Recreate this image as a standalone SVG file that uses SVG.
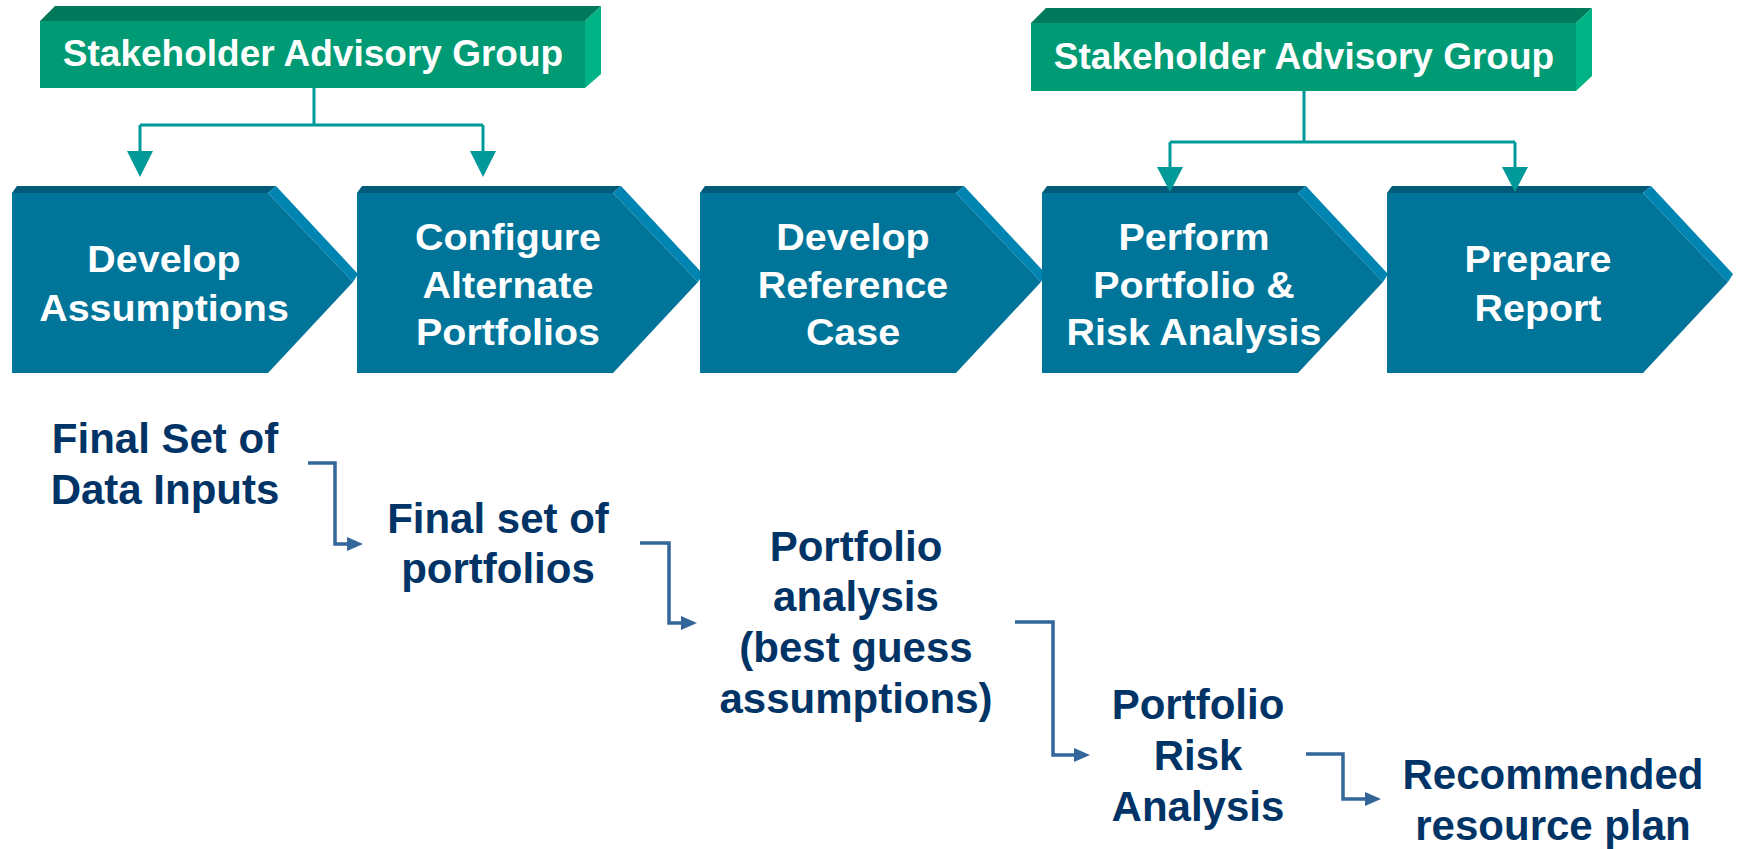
<svg xmlns="http://www.w3.org/2000/svg" width="1738" height="849" viewBox="0 0 1738 849">
<style>
.gfront{fill:#009B74}.gtop{fill:#007A5A}.gside{fill:#00B386}
.cfront{fill:#007499}.ctop{fill:#005A78}.cside{fill:#0084B2}
.gt{font-family:"Liberation Sans",Arial,sans-serif;font-weight:bold;font-size:37px;fill:#FFFFFF;text-anchor:middle}
.ct{font-family:"Liberation Sans",Arial,sans-serif;font-weight:bold;font-size:37px;fill:#FFFFFF;text-anchor:middle}
.bt{font-family:"Liberation Sans",Arial,sans-serif;font-weight:bold;font-size:42px;fill:#003366;text-anchor:middle}
.tl{fill:none;stroke:#009999;stroke-width:3}
.ta{fill:#009999}
.bl{fill:none;stroke:#336699;stroke-width:3.5}
.ba{fill:#336699}
</style>
<g id="sag1">
<polygon class="gtop" points="40,21 55,6 601,6 585,21"/>
<polygon class="gside" points="585,21 601,6 601,74 585,88"/>
<rect class="gfront" x="40" y="21" width="545" height="67"/>
<text class="gt" x="313" y="66">Stakeholder Advisory Group</text>
</g>
<g id="sag2">
<polygon class="gtop" points="1031,23 1046,8 1592,8 1576,23"/>
<polygon class="gside" points="1576,23 1592,8 1592,76 1576,91"/>
<rect class="gfront" x="1031" y="23" width="545" height="68"/>
<text class="gt" x="1304" y="69">Stakeholder Advisory Group</text>
</g>
<g id="step1">
<polygon class="ctop" points="12,193 17,186 276,186 268,193"/>
<polygon class="cside" points="268,193 276,186 358,274 353,282"/>
<polygon class="cfront" points="12,193 268,193 353,282 268,373 12,373"/>
<text class="ct" transform="translate(164,0) scale(1.065,1)"><tspan x="0" y="272">Develop</tspan><tspan x="0" y="321">Assumptions</tspan></text>
</g>
<g id="step2">
<polygon class="ctop" points="357,193 362,186 621,186 613,193"/>
<polygon class="cside" points="613,193 621,186 703,274 698,282"/>
<polygon class="cfront" points="357,193 613,193 698,282 613,373 357,373"/>
<text class="ct" transform="translate(508,0) scale(1.065,1)"><tspan x="0" y="250">Configure</tspan><tspan x="0" y="298">Alternate</tspan><tspan x="0" y="345">Portfolios</tspan></text>
</g>
<g id="step3">
<polygon class="ctop" points="700,193 705,186 964,186 956,193"/>
<polygon class="cside" points="956,193 964,186 1046,274 1041,282"/>
<polygon class="cfront" points="700,193 956,193 1041,282 956,373 700,373"/>
<text class="ct" transform="translate(853,0) scale(1.065,1)"><tspan x="0" y="250">Develop</tspan><tspan x="0" y="298">Reference</tspan><tspan x="0" y="345">Case</tspan></text>
</g>
<g id="step4">
<polygon class="ctop" points="1042,193 1047,186 1306,186 1298,193"/>
<polygon class="cside" points="1298,193 1306,186 1388,274 1383,282"/>
<polygon class="cfront" points="1042,193 1298,193 1383,282 1298,373 1042,373"/>
<text class="ct" transform="translate(1194,0) scale(1.065,1)"><tspan x="0" y="250">Perform</tspan><tspan x="0" y="298">Portfolio &amp;</tspan><tspan x="0" y="345">Risk Analysis</tspan></text>
</g>
<g id="step5">
<polygon class="ctop" points="1387,193 1392,186 1651,186 1643,193"/>
<polygon class="cside" points="1643,193 1651,186 1733,274 1728,282"/>
<polygon class="cfront" points="1387,193 1643,193 1728,282 1643,373 1387,373"/>
<text class="ct" transform="translate(1538,0) scale(1.065,1)"><tspan x="0" y="272">Prepare</tspan><tspan x="0" y="321">Report</tspan></text>
</g>
<g id="out1"><text class="bt"><tspan x="165" y="453">Final Set of</tspan><tspan x="165" y="504">Data Inputs</tspan></text></g>
<g id="out2"><text class="bt"><tspan x="498" y="533">Final set of</tspan><tspan x="498" y="583">portfolios</tspan></text></g>
<g id="out3"><text class="bt"><tspan x="856" y="561">Portfolio</tspan><tspan x="856" y="611">analysis</tspan><tspan x="856" y="662">(best guess</tspan><tspan x="856" y="713">assumptions)</tspan></text></g>
<g id="out4"><text class="bt"><tspan x="1198" y="719">Portfolio</tspan><tspan x="1198" y="770">Risk</tspan><tspan x="1198" y="821">Analysis</tspan></text></g>
<g id="out5"><text class="bt"><tspan x="1553" y="789">Recommended</tspan><tspan x="1553" y="840">resource plan</tspan></text></g>
<g id="connectors">
<path class="tl" d="M314,88 V125 M140,125 H483 M140,125 V153 M483,125 V153"/>
<polygon class="ta" points="127,151 153,151 140,177"/>
<polygon class="ta" points="470,151 496,151 483,177"/>
<path class="tl" d="M1304,91 V142 M1170,142 H1515 M1170,142 V169 M1515,142 V169"/>
<polygon class="ta" points="1157,167 1183,167 1170,192"/>
<polygon class="ta" points="1502,167 1528,167 1515,192"/>
<path class="bl" d="M308,463 H335 V544 H349"/>
<polygon class="ba" points="347,537 363,544 347,551"/>
<path class="bl" d="M640,543 H669 V623 H683"/>
<polygon class="ba" points="681,616 697,623 681,630"/>
<path class="bl" d="M1015,622 H1053 V755 H1076"/>
<polygon class="ba" points="1074,748 1090,755 1074,762"/>
<path class="bl" d="M1306,754 H1343 V799 H1367"/>
<polygon class="ba" points="1365,792 1381,799 1365,806"/>
</g>
</svg>
